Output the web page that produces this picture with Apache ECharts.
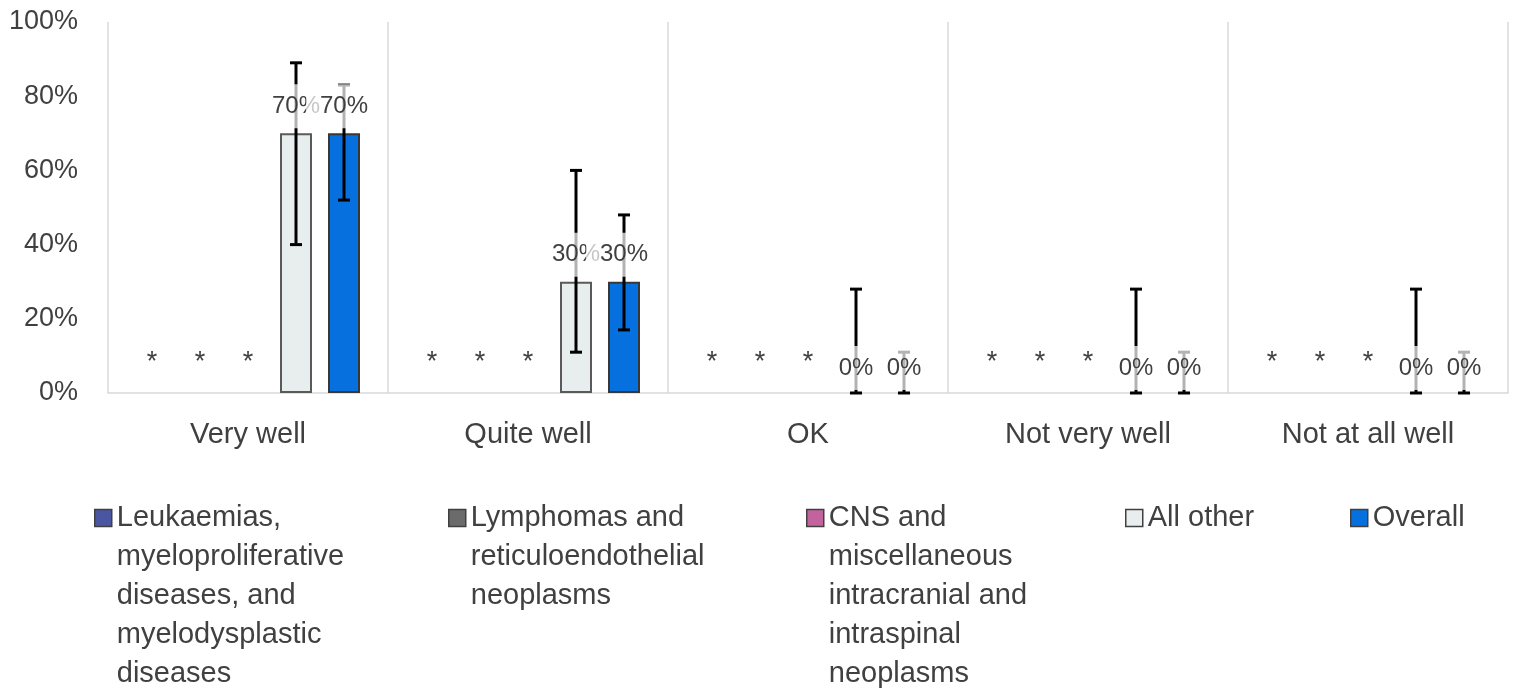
<!DOCTYPE html>
<html>
<head>
<meta charset="utf-8">
<script src="https://cdn.jsdelivr.net/npm/echarts@6/dist/echarts.min.js"></script>
<style>
html,body{margin:0;padding:0;background:#fff;}
#chart{width:1516px;height:689px;}
</style>
</head>
<body>
<div id="chart"></div>
<script>
const categories = ['Very well', 'Quite well', 'OK', 'Not very well', 'Not at all well'];
const seriesNames = [
  'Leukaemias, myeloproliferative diseases, and myelodysplastic diseases',
  'Lymphomas and reticuloendothelial neoplasms',
  'CNS and miscellaneous intracranial and intraspinal neoplasms',
  'All other',
  'Overall'
];
const legendLines = [
  ['Leukaemias,', 'myeloproliferative', 'diseases, and', 'myelodysplastic', 'diseases'],
  ['Lymphomas and', 'reticuloendothelial', 'neoplasms'],
  ['CNS and', 'miscellaneous', 'intracranial and', 'intraspinal', 'neoplasms'],
  ['All other'],
  ['Overall']
];
// suppressed values (shown as *)
const leukaemias = [0, 0, 0, 0, 0];
const lymphomas = [0, 0, 0, 0, 0];
const cns = [0, 0, 0, 0, 0];
const suppressedLabel = '*';
const allOther = [70, 30, 0, 0, 0];
const overall = [70, 30, 0, 0, 0];
const allOtherLow = [40, 11, 0, 0, 0];
const allOtherHigh = [89, 60, 28, 28, 28];
const overallLow = [52, 17, 0, 0, 0];
const overallHigh = [83, 48, 11, 11, 11];
const yMin = 0, yMax = 100, yInterval = 20;

const FONT = '"Liberation Sans", Arial, sans-serif';
const TXT = '#404040';
const colors = ['#4B56A2', '#6B6B6B', '#C3639E', '#E8EDED', '#0570DE'];
const borders = [null, null, null, '#5A5A5A', '#383838'];

const chart = echarts.init(document.getElementById('chart'));

function suppressedBar(i, data) {
  return {
    name: seriesNames[i], type: 'bar', data: data,
    itemStyle: { color: colors[i], borderWidth: 0 },
    label: { show: true, position: 'top', distance: 17, formatter: suppressedLabel,
      fontFamily: FONT, fontSize: 27, color: TXT },
    emphasis: { disabled: true }
  };
}
function valueBar(i, data) {
  return {
    name: seriesNames[i], type: 'bar', z: 2,
    data: data.map(v => ({ value: v, itemStyle: { borderWidth: v > 0 ? 2 : 0 } })),
    itemStyle: { color: colors[i], borderColor: borders[i], borderWidth: 2 },
    emphasis: { disabled: true }
  };
}
function errSeries(slot, low, high, vals) {
  return {
    type: 'custom', z: 5, silent: true,
    data: categories.map((c, i) => [i, low[i], high[i], vals[i]]),
    encode: { x: 0, y: [1, 2] },
    renderItem: function (params, api) {
      const ci = api.value(0);
      const band = api.size([1, 0])[0];
      const bw = band * 0.8 / 7;
      const step = bw * 1.5;
      const x = api.coord([ci, 0])[0] + (slot - 2) * step;
      const yl = api.coord([ci, api.value(1)])[1];
      const yh = api.coord([ci, api.value(2)])[1];
      const v = api.value(3);
      const yv = api.coord([ci, v])[1];
      const cap = 6;
      const st = { stroke: '#000', lineWidth: 3 };
      return {
        type: 'group',
        children: [
          { type: 'line', shape: { x1: x, y1: yl, x2: x, y2: yh }, style: st },
          { type: 'line', shape: { x1: x - cap, y1: yh, x2: x + cap, y2: yh }, style: st },
          { type: 'line', shape: { x1: x - cap, y1: yl, x2: x + cap, y2: yl }, style: st },
          { type: 'text', z2: 10, style: {
              text: v + '%', x: x, y: yv - (v > 0 ? 5 : 3), align: 'center', verticalAlign: 'bottom',
              font: '24px ' + FONT, fill: TXT,
              backgroundColor: 'rgba(255,255,255,0.7)', padding: [10, 14, 10, 14]
          } }
        ]
      };
    }
  };
}

const legendLefts = [94, 448, 806, 1125, 1350];
const LH = 39;
const legends = seriesNames.map((n, i) => {
  const L = legendLines[i].length;
  return {
    data: [n], left: legendLefts[i], top: 518 - (2 * L - 1) * LH / 2,
    orient: 'vertical', padding: 0, itemWidth: 17, itemHeight: 17, itemGap: 0,
    icon: 'rect', selectedMode: false,
    itemStyle: { borderColor: '#404040', borderWidth: 1.5 },
    textStyle: { fontFamily: FONT, fontSize: 29, color: TXT, lineHeight: LH },
    formatter: () => '\n'.repeat(L - 1) + legendLines[i].join('\n')
  };
});

chart.setOption({
  animation: false,
  backgroundColor: '#fff',
  grid: { left: 108, right: 8, top: 22, height: 371 },
  legend: legends,
  xAxis: {
    type: 'category', data: categories,
    axisLine: { lineStyle: { color: '#D9D9D9', width: 1.5 } },
    axisTick: { show: false },
    splitLine: { show: true, lineStyle: { color: '#D9D9D9', width: 1.5 } },
    axisLabel: { fontFamily: FONT, fontSize: 29, color: TXT, margin: 27 }
  },
  yAxis: {
    type: 'value', min: yMin, max: yMax, interval: yInterval,
    axisLine: { show: false }, axisTick: { show: false },
    splitLine: { show: false },
    axisLabel: { fontFamily: FONT, fontSize: 27, color: TXT, margin: 30, formatter: '{value}%' }
  },
  series: [
    Object.assign(suppressedBar(0, leukaemias), { barGap: '50%', barCategoryGap: '20%' }),
    suppressedBar(1, lymphomas),
    suppressedBar(2, cns),
    valueBar(3, allOther),
    valueBar(4, overall),
    errSeries(3, allOtherLow, allOtherHigh, allOther),
    errSeries(4, overallLow, overallHigh, overall)
  ]
});
</script>
</body>
</html>
